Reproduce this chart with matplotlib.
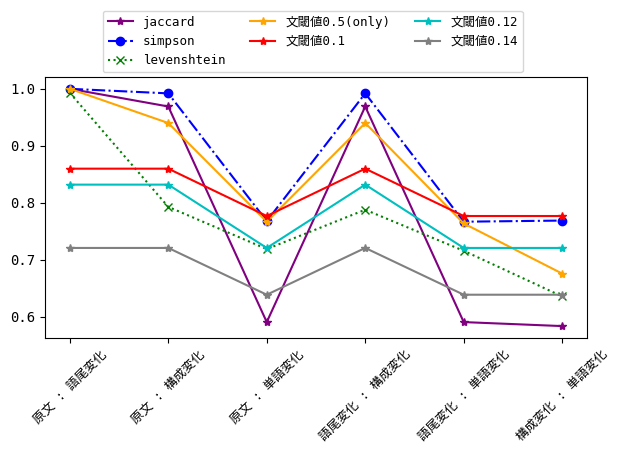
import matplotlib
matplotlib.use("Agg")
import matplotlib.pyplot as plt

plt.rcParams["font.family"] = ["DejaVu Sans Mono", "Noto Sans CJK JP"]

categories = [
    "原文 : 語尾変化",
    "原文 : 構成変化",
    "原文 : 単語変化",
    "語尾変化 : 構成変化",
    "語尾変化 : 単語変化",
    "構成変化 : 単語変化",
]
jaccard = [1.0, 0.969, 0.591, 0.969, 0.591, 0.584]
simpson = [1.0, 0.992, 0.768, 0.992, 0.767, 0.769]
levenshtein = [0.993, 0.793, 0.719, 0.788, 0.716, 0.636]
th_05 = [1.0, 0.940, 0.767, 0.940, 0.764, 0.676]
th_01 = [0.860, 0.860, 0.777, 0.860, 0.777, 0.777]
th_012 = [0.832, 0.832, 0.721, 0.832, 0.721, 0.721]
th_014 = [0.721, 0.721, 0.639, 0.721, 0.639, 0.639]


def main() -> None:
    fig = plt.figure(figsize=(6.19, 4.5), dpi=100)
    ax = fig.add_axes([0.073, 0.249, 0.875, 0.58])
    x = range(len(categories))
    ax.plot(x, jaccard, color="purple", marker="*", label="jaccard")
    ax.plot(x, simpson, color="blue", marker="o", linestyle="-.", label="simpson")
    ax.plot(x, levenshtein, color="green", marker="x", linestyle=":", label="levenshtein")
    ax.plot(x, th_05, color="orange", marker="*", label="文閾値0.5(only)")
    ax.plot(x, th_01, color="red", marker="*", label="文閾値0.1")
    ax.plot(x, th_012, color="c", marker="*", label="文閾値0.12")
    ax.plot(x, th_014, color="gray", marker="*", label="文閾値0.14")
    ax.set_xticks(list(x))
    ax.set_xticklabels(categories, rotation=45, fontsize=9)
    ax.set_yticks([0.6, 0.7, 0.8, 0.9, 1.0])
    fig.legend(loc="upper center", bbox_to_anchor=(0.505, 0.99), ncol=3, fontsize=9)
    fig.savefig("out.png", dpi=100)
    plt.close(fig)


if __name__ == "__main__":
    main()
